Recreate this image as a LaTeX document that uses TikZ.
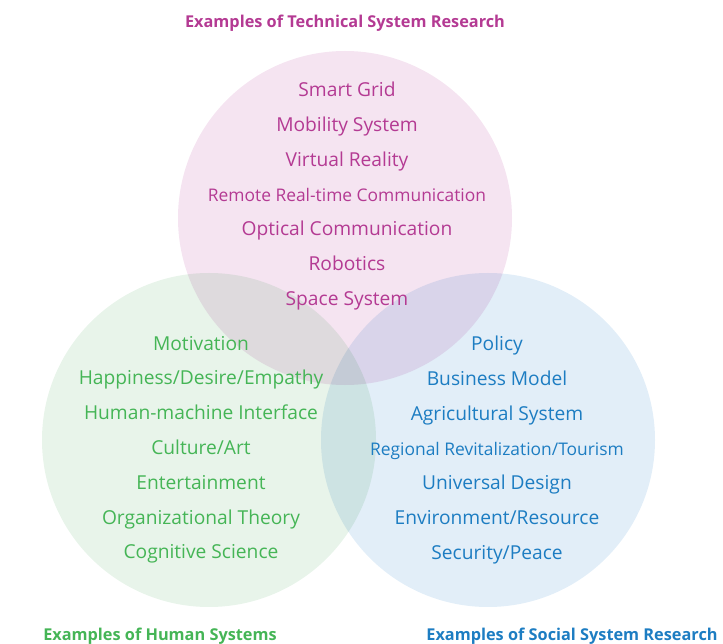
\documentclass[tikz,border=0pt]{standalone}
\usepackage{fontspec}
\setmainfont{Open Sans}
\usetikzlibrary{positioning}
\definecolor{techpink}{HTML}{B43A93}
\definecolor{humangreen}{HTML}{45B556}
\definecolor{socialblue}{HTML}{1D7DC2}
\definecolor{techfill}{HTML}{F5E4F1}
\definecolor{humanfill}{HTML}{E8F4EA}
\definecolor{socialfill}{HTML}{E2EEF8}
\tikzset{
  area/.style={circle, minimum size=334pt, inner sep=0pt},
  item/.style={font=\fontsize{19.2}{22}\selectfont, inner sep=1pt, anchor=base},
  longitem/.style={item, font=\fontsize{17.4}{20}\selectfont},
  heading/.style={font=\bfseries\fontsize{16.3}{18}\selectfont, inner sep=1pt, anchor=base}
}

\begin{document}
\begin{tikzpicture}[x=1pt,y=1pt]
\useasboundingbox (0,0) rectangle (723,-644);
\begin{scope}[blend group=multiply]
\node[area, fill=techfill] (tech) at (345,-218) {};
\node[area, fill=humanfill] (human) at (209,-440) {};
\node[area, fill=socialfill] (social) at (488,-440) {};
\end{scope}
% headings
\node[heading, text=techpink] (techhead) at (345,-28) {Examples of Technical System Research};
\node[heading, text=humangreen] (humanhead) at (160,-640) {Examples of Human Systems};
\node[heading, text=socialblue] (socialhead) at (572,-640) {Examples of Social System Research};
% items
\foreach \txt/\st [count=\i] in {Smart Grid/item, Mobility System/item, Virtual Reality/item,
  Remote Real-time Communication/longitem, Optical Communication/item, Robotics/item, Space System/item}
  \node[\st, text=techpink] (tech\i) at (347,{-97-34.7*(\i-1)}) {\txt};
\foreach \txt [count=\i] in {Motivation, Happiness/Desire/Empathy,
  Human-machine Interface, Culture/Art, Entertainment, Organizational Theory,
  Cognitive Science}
  \node[item, text=humangreen] (human\i) at (201,{-350-34.8*(\i-1)}) {\txt};
\foreach \txt/\st [count=\i] in {Policy/item, Business Model/item, Agricultural System/item,
  {Regional Revitalization/Tourism}/longitem, Universal Design/item, {Environment/Resource}/item,
  {Security/Peace}/item}
  \node[\st, text=socialblue] (social\i) at (497,{-351-34.7*(\i-1)}) {\txt};
\end{tikzpicture}
\end{document}
